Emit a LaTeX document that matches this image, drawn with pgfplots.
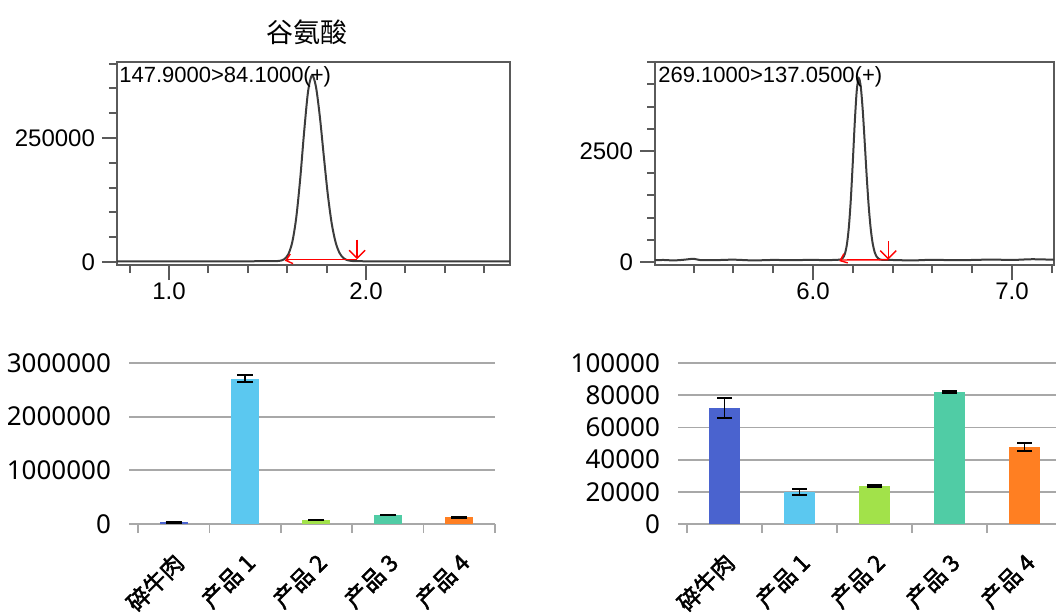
\documentclass[border=0pt]{standalone}
\usepackage{fontspec}
\setmainfont{Liberation Sans}
\newfontfamily\cjk{Noto Sans CJK SC}
\newfontfamily\cjkb[AutoFakeBold=2]{Noto Sans CJK SC}
\newfontfamily\numfont{Noto Sans}
\usepackage{pgfplots}
\pgfplotsset{compat=1.18}
\usetikzlibrary{arrows.meta}
\definecolor{axgray}{HTML}{5A5A5A}
\definecolor{trace}{HTML}{3C3C3C}
\definecolor{gridgray}{HTML}{A8A8A8}
\definecolor{cBeef}{HTML}{4A63CF}
\definecolor{cP1}{HTML}{5BC8F0}
\definecolor{cP2}{HTML}{A2E24A}
\definecolor{cP3}{HTML}{50CCA5}
\definecolor{cP4}{HTML}{FF7F22}
\pgfplotsset{
  chrom/.style={
    scale only axis, anchor=south west, clip=false,
    width=196.5pt, height=101.5pt,
    axis line style={axgray, line width=1pt},
    tick pos=left, tick align=outside,
    major tick length=7.5pt, minor tick length=4pt,
    every tick/.style={axgray, line width=1pt},
    every minor tick/.style={axgray, line width=1pt},
    tick label style={font=\fontsize{12}{14}\selectfont},
    xticklabel style={yshift=2pt},
    /pgf/number format/assume math mode=true,
    scaled ticks=false,
  },
  bars/.style={
    scale only axis, anchor=south west,
    width=178.5pt, height=80.5pt,
    xmin=-0.5, xmax=4.5, ymin=0,
    axis x line*=bottom, axis y line*=left,
    y axis line style={draw=none},
    x axis line style={gridgray, line width=0.9pt},
    tick align=outside,
    major tick length=4.5pt,
    tick style={gridgray, line width=0.9pt},
    ymajorgrids, grid style={gridgray, line width=0.9pt},
    xtick={-0.5,0.5,...,4.5}, xticklabels={},
    extra x ticks={0,1,2,3,4},
    extra x tick labels={碎牛肉,产品 1,产品 2,产品 3,产品 4},
    extra x tick style={major tick length=0pt,
      tick label style={font=\cjkb\bfseries\fontsize{11.5}{13}\selectfont,
        xshift=3pt, yshift=-17pt, rotate=45, anchor=east, inner sep=0pt}},
    yticklabel style={font=\numfont\fontsize{13}{15}\selectfont, xshift=-5.5pt},
    /pgf/number format/assume math mode=true,
    scaled ticks=false,
  },
  bar/.style={ybar, fill=#1, draw=none, bar width=14pt,
    error bars/.cd, y dir=both, y explicit,
    error bar style={black, line width=0.9pt},
    error mark options={black, line width=0.9pt, mark size=4pt, rotate=90}},
  barR/.style={ybar, fill=#1, draw=none, bar width=15.5pt,
    error bars/.cd, y dir=both, y explicit,
    error bar style={black, line width=0.9pt},
    error mark options={black, line width=0.9pt, mark size=3.75pt, rotate=90}},
}
\begin{document}
\begin{tikzpicture}
\useasboundingbox (0,0) rectangle (528pt,306pt);
\clip (0,0) rectangle (528pt,306pt);

% ---------- top left chromatogram ----------
\begin{axis}[chrom, at={(58.5pt,173.5pt)},
  xmin=0.736, xmax=2.731, ymin=-6050, ymax=403200,
  xtick={1,2}, xticklabels={1.0,2.0},
  minor xtick={0.8,1.2,1.4,1.6,1.8,2.2,2.4,2.6},
  ytick={0,250000}, yticklabels={0,250000},
  minor ytick={50000,100000,150000,200000,300000,350000,400000}]
\addplot[trace, line width=1pt, smooth, tension=0.5] coordinates {
(0.736,1500) (1.0,1500) (1.3,1400) (1.50,1600) (1.546,1750) (1.566,2650)
(1.586,5900) (1.606,15900) (1.626,40500) (1.646,89600) (1.666,167500)
(1.686,262600) (1.706,344000) (1.726,376500) (1.746,353300) (1.766,292100)
(1.786,212700) (1.806,136600) (1.826,77600) (1.846,39300) (1.866,18000)
(1.886,7800) (1.906,3630) (1.926,2140) (1.946,1670) (2.0,1500) (2.3,1500) (2.731,1500)};
\addplot[red, line width=0.7pt] coordinates {(1.595,5000) (1.955,5000)};
\addplot[red, line width=0.7pt, -{Straight Barb[length=4pt,width=8pt]}] coordinates {(1.955,45000) (1.955,5500)};
\addplot[red, line width=0.7pt, -{Straight Barb[length=3pt,width=5pt]}] coordinates {(1.61,5000) (1.588,2500)};
\node[anchor=north west, inner sep=0pt, font=\fontsize{11}{13}\selectfont, xshift=1pt, yshift=-2pt] at (rel axis cs:0,1) {147.9000>84.1000(+)};
\node[font=\cjk\fontsize{13.5}{15}\selectfont, yshift=15pt] at (rel axis cs:0.483,1) {谷氨酸};
\end{axis}

% ---------- top right chromatogram ----------
\begin{axis}[chrom, at={(327.5pt,173.5pt)}, width=199.5pt,
  xmin=5.206, xmax=7.211, ymin=-68, ymax=4504,
  xtick={6,7}, xticklabels={6.0,7.0},
  minor xtick={5.4,5.6,5.8,6.2,6.4,6.6,6.8,7.2},
  ytick={0,2500}, yticklabels={0,2500},
  minor ytick={500,1000,1500,2000,3000,3500,4000,4500}]
\addplot[trace, line width=1pt, smooth, tension=0.5] coordinates {
(5.206,40) (5.25,45) (5.3,35) (5.35,50) (5.4,72) (5.43,45) (5.5,40) (5.6,52)
(5.7,35) (5.8,46) (5.9,40) (6.0,50) (6.05,40) (6.1,45) (6.14,56) (6.15,91)
(6.16,182) (6.17,387) (6.18,778) (6.19,1409) (6.20,2251) (6.21,3157) (6.22,3869)
(6.23,4140) (6.24,3945) (6.25,3413) (6.26,2682) (6.27,1917) (6.28,1250)
(6.29,747) (6.30,415) (6.31,220) (6.32,118) (6.33,71) (6.34,51) (6.4,45)
(6.5,35) (6.6,50) (6.7,40) (6.8,45) (6.9,55) (7.0,45) (7.1,62) (7.211,50)};
\addplot[red, line width=0.7pt] coordinates {(6.135,45) (6.378,50)};
\addplot[red, line width=0.7pt, -{Straight Barb[length=4pt,width=8pt]}] coordinates {(6.378,470) (6.378,55)};
\addplot[red, line width=0.7pt, -{Straight Barb[length=3pt,width=5pt]}] coordinates {(6.145,45) (6.132,20)};
\node[anchor=north west, inner sep=0pt, font=\fontsize{11}{13}\selectfont, xshift=1.5pt, yshift=-2pt] at (rel axis cs:0,1) {269.1000>137.0500(+)};
\end{axis}

% ---------- bottom left bars ----------
\begin{axis}[bars, at={(69pt,44pt)}, ymax=3000000,
  ytick={0,1000000,2000000,3000000}, yticklabels={0,1000000,2000000,3000000}]
\addplot[bar=cBeef] coordinates {(0,30000) +- (0,8000)};
\addplot[bar=cP1] coordinates {(1,2710000) +- (0,70000)};
\addplot[bar=cP2] coordinates {(2,75000) +- (0,8000)};
\addplot[bar=cP3] coordinates {(3,168000) +- (0,10000)};
\addplot[bar=cP4] coordinates {(4,125000) +- (0,8000)};
\end{axis}

% ---------- bottom right bars ----------
\begin{axis}[bars, at={(343.5pt,44pt)}, width=187.5pt, ymax=100000,
  ytick={0,20000,40000,60000,80000,100000},
  yticklabels={0,20000,40000,60000,80000,100000}]
\addplot[barR=cBeef] coordinates {(0,72200) +- (0,6200)};
\addplot[barR=cP1] coordinates {(1,20000) +- (0,1800)};
\addplot[barR=cP2] coordinates {(2,23600) +- (0,700)};
\addplot[barR=cP3] coordinates {(3,82000) +- (0,500)};
\addplot[barR=cP4] coordinates {(4,48000) +- (0,2500)};
\end{axis}
\end{tikzpicture}
\end{document}
